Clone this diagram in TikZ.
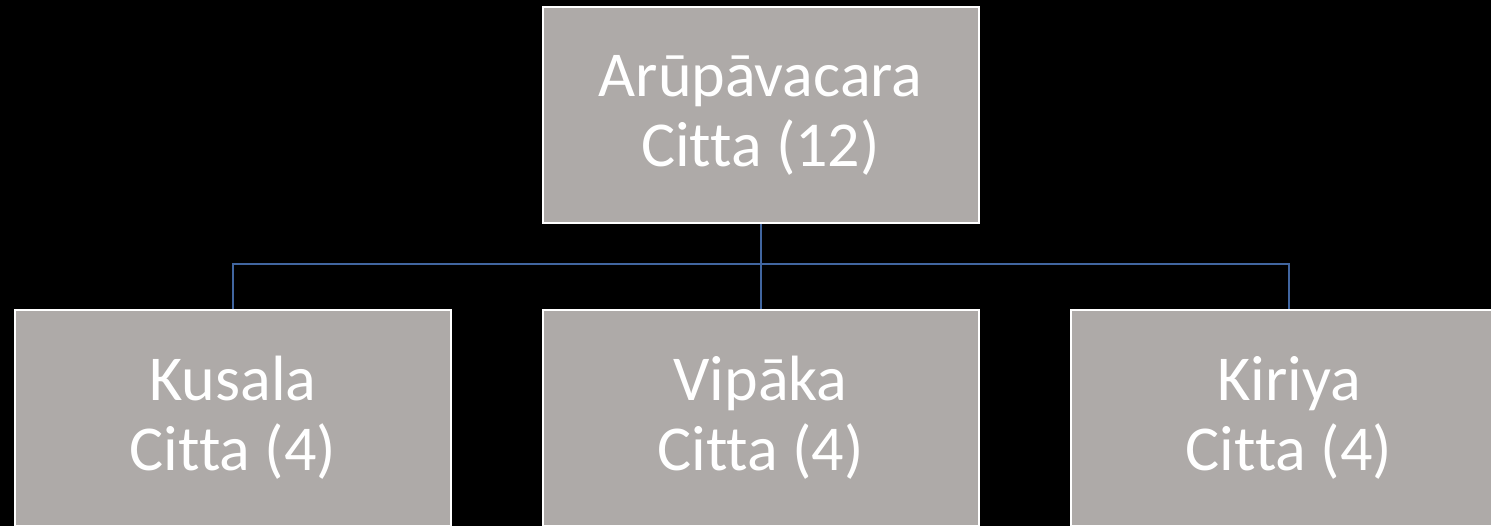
\documentclass[tikz,border=0pt]{standalone}
\usepackage{fontspec}
\setmainfont[Ligatures=NoCommon]{Carlito}
\definecolor{boxfill}{RGB}{174,170,168}
\definecolor{linkblue}{RGB}{65,102,160}
\tikzset{
  cbox/.style={draw=white, line width=2pt, fill=boxfill, text=white,
    minimum width=436pt, minimum height=216pt, align=center, inner sep=0pt,
    font=\fontsize{64}{70}\selectfont},
  link/.style={draw=linkblue, line width=2pt}
}
\begin{document}
\begin{tikzpicture}[x=1pt,y=-1pt]
\useasboundingbox (0,0) rectangle (1491,526);
\fill[black] (0,0) rectangle (1491,526);
\begin{scope}
\clip (0,0) rectangle (1491,526);
\node[cbox] (top) at (760.5,115) {Arūpāvacara\\Citta (12)};
\node[cbox] (kus) at (233,418) {Kusala\\Citta (4)};
\node[cbox] (vip) at (760.5,418) {Vipāka\\Citta (4)};
\node[cbox] (kir) at (1289,418) {Kiriya\\Citta (4)};
\coordinate (bus) at (760.5,264);
\draw[link] (top.south) -- (bus);
\draw[link] (bus) -| (kus.north);
\draw[link] (bus) -| (kir.north);
\draw[link] (bus) -- (vip.north);
\end{scope}
\end{tikzpicture}
\end{document}
